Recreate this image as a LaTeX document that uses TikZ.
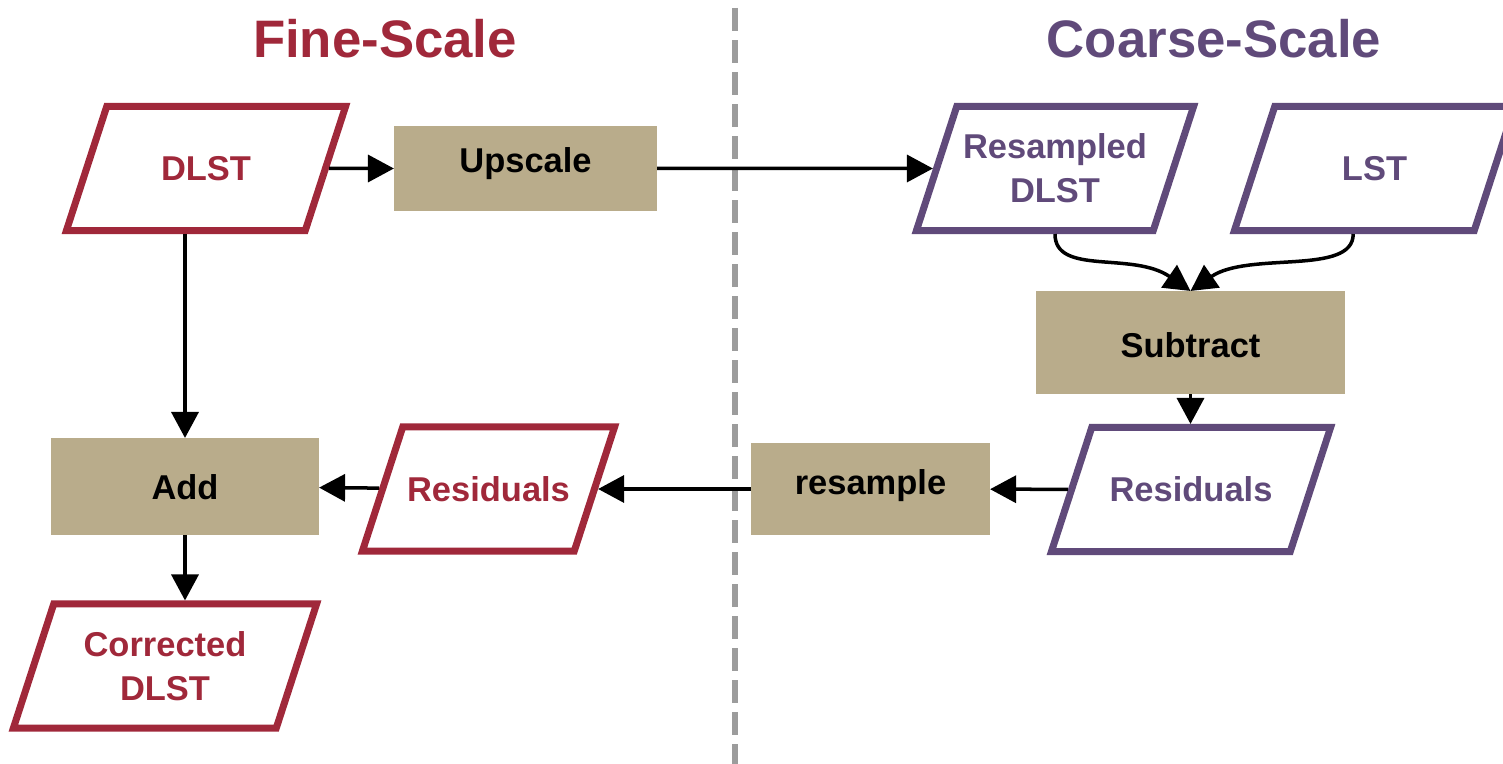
\documentclass[tikz,border=0pt]{standalone}
\usepackage{fontspec}
\setmainfont{Liberation Sans}
\usetikzlibrary{shapes.geometric,arrows.meta,calc}
\definecolor{fred}{HTML}{A0283A}
\definecolor{cpurp}{HTML}{604A7A}
\definecolor{boxtan}{HTML}{B9AC8B}
\definecolor{divgray}{HTML}{9C9C9C}
\tikzset{
  para/.style={trapezium, trapezium left angle=72, trapezium right angle=108,
    trapezium stretches body, line width=0.07cm, fill=white,
    inner xsep=0pt, inner ysep=0.4965cm,
    align=center, font=\bfseries\fontsize{9.8}{12.5}\selectfont,
    text height=0.247cm, text depth=0pt},
  finep/.style={para, draw=fred, text=fred},
  coarsep/.style={para, draw=cpurp, text=cpurp},
  twoline/.style={text height=0.688cm, text depth=0pt, inner ysep=0.276cm},
  procbox/.style={rectangle, fill=boxtan, inner sep=0pt, outer sep=0pt,
    font=\bfseries\fontsize{9.8}{12.5}\selectfont, text=black},
  arr/.style={line width=0.035cm, -{Triangle[length=0.26cm,width=0.27cm]}},
  titletext/.style={font=\bfseries\fontsize{15}{18}\selectfont, text height=0.378cm,
    text depth=0pt, inner sep=0pt}
}
\begin{document}
\begin{tikzpicture}[x=0.01cm, y=-0.01cm]
\useasboundingbox (0,0) rectangle (1503,764);
\clip (0,0) rectangle (1503,764);

% titles
\node[titletext, text=fred] (tfine) at (385,39) {Fine-Scale};
\node[titletext, text=cpurp] (tcoarse) at (1214,39) {Coarse-Scale};

% divider
\draw[divgray, line width=0.058cm, dash pattern=on 0.23cm off 0.09cm] (735,8) -- (735,764);

% parallelograms
\node[finep, minimum width=2.79cm] (dlst) at (206,168.5) {DLST};
\node[coarsep, twoline, minimum width=2.77cm] (resdlst) at (1055,168.5) {Resampled\\DLST};
\node[coarsep, minimum width=2.80cm] (lst) at (1374.5,168.5) {LST};
\node[coarsep, minimum width=2.79cm] (rescoarse) at (1191,489.5) {Residuals};
\node[finep, minimum width=2.52cm] (resfine) at (488.5,489) {Residuals};
\node[finep, twoline, minimum width=3.03cm] (corrected) at (165,666) {Corrected\\DLST};

% process boxes
\node[procbox, minimum width=2.63cm, minimum height=0.85cm, text height=0.25cm, text depth=0.173cm] (upscale) at (525.5,168.5) {Upscale};
\node[procbox, minimum width=3.09cm, minimum height=1.03cm, text height=0.297cm, text depth=0cm] (subtract) at (1190.5,342.5) {Subtract};
\node[procbox, minimum width=2.39cm, minimum height=0.92cm, text height=0.25cm, text depth=0.133cm] (resample) at (870.5,489) {resample};
\node[procbox, minimum width=2.68cm, minimum height=0.97cm, text height=0.267cm, text depth=0cm] (add) at (185,486.5) {Add};

% connectors
\draw[arr] (dlst) -- (upscale);
\draw[arr] (upscale) -- (resdlst);
\draw[arr] (resdlst.center |- resdlst.bottom side) .. controls +(0,42) and +(-58,-40) .. (subtract.north);
\draw[arr] (lst.bottom side) .. controls +(0,42) and +(58,-40) .. (subtract.north);
\draw[arr] (subtract.south) -- (subtract.south |- rescoarse.top side);
\draw[arr] (rescoarse) -- (resample);
\draw[arr] (resample) -- (resfine);
\draw[arr] (resfine) -- (add);
\draw[arr] (dlst.bottom side -| add.north) -- (add.north);
\draw[arr] (add.south) -- (add.south |- corrected.top side);
\end{tikzpicture}
\end{document}
